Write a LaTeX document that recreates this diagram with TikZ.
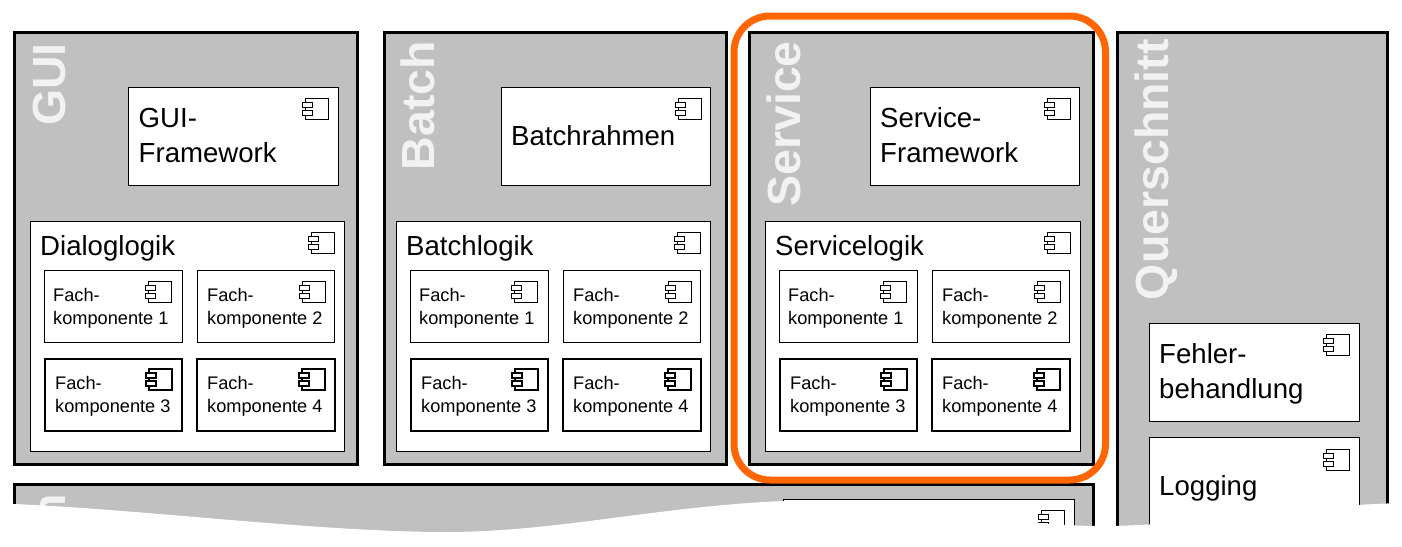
\documentclass[tikz,border=0pt]{standalone}
\usepackage{fontspec}
\setmainfont{Liberation Sans}
\definecolor{panelgrey}{HTML}{C0C0C0}
\definecolor{titlewhite}{HTML}{F2F2F2}
\definecolor{ringorange}{HTML}{FF6600}
\tikzset{
  panel/.style={draw=black,fill=panelgrey,line width=3pt,line join=miter},
  whitebox/.style={draw=black,fill=white,line width=1.2pt,xshift=.5pt,yshift=-.5pt},
  fachthin/.style={draw=black,fill=white,line width=1.2pt,xshift=.5pt,yshift=-.5pt},
  fachthick/.style={draw=black,fill=white,line width=1.8pt,xshift=.3pt,yshift=-.3pt},
  paneltitle/.style={rotate=90,anchor=base east,inner sep=0pt,text=titlewhite,font=\fontsize{46.5}{46.5}\selectfont\bfseries},
  biglabel/.style={anchor=base west,inner sep=0pt,align=left,font=\fontsize{27.6}{35}\selectfont},
  smalllabel/.style={anchor=base west,inner sep=0pt,align=left,font=\fontsize{18.2}{23}\selectfont},
  ring/.style={draw=ringorange,line width=7pt,rounded corners=36pt}
}
% \compicon{line width}{right}{top}
\newcommand{\compicon}[3]{%
  \draw[line width=#1,fill=white] (#2-23,#3) rectangle (#2,#3+21);
  \draw[line width=#1,fill=white] (#2-26,#3+4) rectangle (#2-16,#3+9);
  \draw[line width=#1,fill=white] (#2-26,#3+12) rectangle (#2-16,#3+17);
}
% \fachgroup{prefix}{dx}
\newcommand{\fachgroup}[2]{%
  \draw[fachthin] (44+#2,270) rectangle (182+#2,342);
  \draw[fachthin] (197+#2,270) rectangle (334+#2,342);
  \draw[fachthick] (45+#2,359) rectangle (182+#2,431);
  \draw[fachthick] (197+#2,359) rectangle (335+#2,431);
  \compicon{0.9pt}{171+#2}{281}
  \compicon{0.9pt}{325+#2}{281}
  \compicon{1.4pt}{172+#2}{369}
  \compicon{1.4pt}{325+#2}{369}
  \node[smalllabel] (#1a) at (53+#2,324) {Fach-\\komponente 1};
  \node[smalllabel] (#1b) at (207+#2,324) {Fach-\\komponente 2};
  \node[smalllabel] (#1c) at (55+#2,412) {Fach-\\komponente 3};
  \node[smalllabel] (#1d) at (207+#2,412) {Fach-\\komponente 4};
}
\begin{document}
\begin{tikzpicture}[x=1pt,y=-1pt]
\useasboundingbox (0,0) rectangle (1402,546);
\fill[white] (0,0) rectangle (1402,546);
% panels
\draw[panel] (14,32) rectangle (357,464);
\draw[panel] (384,32) rectangle (726,464);
\draw[panel] (749,32) rectangle (1093,464);
\draw[panel] (1117,32) rectangle (1387,560);
\draw[panel] (14,484) rectangle (1093,560);
% titles
\node[paneltitle] (tgui) at (65,43) {GUI};
\node[paneltitle] (tbatch) at (434,41) {Batch};
\node[paneltitle] (tservice) at (800,41) {Service};
\node[paneltitle] (tquer) at (1168,39) {Querschnitt};
\node[paneltitle] (tbase) at (65,494) {n};
% framework boxes
\draw[whitebox] (128,87) rectangle (338,185);
\compicon{0.9pt}{328}{98}
\node[biglabel] (fgui) at (138.5,162) {GUI-\\Framework};
\draw[whitebox] (501,87) rectangle (710,185);
\compicon{0.9pt}{701}{98}
\node[biglabel] (fbatch) at (511,145) {Batchrahmen};
\draw[whitebox] (870,87) rectangle (1079,185);
\compicon{0.9pt}{1070}{98}
\node[biglabel] (fservice) at (880,162) {Service-\\Framework};
% logic boxes
\draw[whitebox] (30,221) rectangle (344,451);
\compicon{0.9pt}{334}{232}
\node[biglabel] (lgui) at (40,255.5) {Dialoglogik};
\fachgroup{g}{0}
\draw[whitebox] (396,221) rectangle (710,451);
\compicon{0.9pt}{700}{232}
\node[biglabel] (lbatch) at (406,255.5) {Batchlogik};
\fachgroup{b}{366}
\draw[whitebox] (765,221) rectangle (1080,451);
\compicon{0.9pt}{1070}{232}
\node[biglabel] (lservice) at (775,255.5) {Servicelogik};
\fachgroup{s}{735}
% cross-cutting boxes
\draw[whitebox] (1149,323) rectangle (1359,421);
\compicon{0.9pt}{1349}{334}
\node[biglabel] (qfehler) at (1159,398) {Fehler-\\behandlung};
\draw[whitebox] (1149,437) rectangle (1359,560);
\compicon{0.9pt}{1349}{449}
\node[biglabel] (qlog) at (1159,495) {Logging};
% bottom panel box
\draw[whitebox] (783,499) rectangle (1074,560);
\compicon{0.9pt}{1064}{510}
% torn edge
\fill[white] (-2,503) -- (14,504) .. controls (150,510) and (320,532) .. (446,532)
  .. controls (570,532) and (680,500) .. (830,500)
  .. controls (930,500) and (1000,526) .. (1100,526)
  .. controls (1200,526) and (1300,505) .. (1404,503) -- (1404,548) -- (-2,548) -- cycle;
% highlight
\draw[ring] (734,16) rectangle (1105.5,480);
\end{tikzpicture}
\end{document}
